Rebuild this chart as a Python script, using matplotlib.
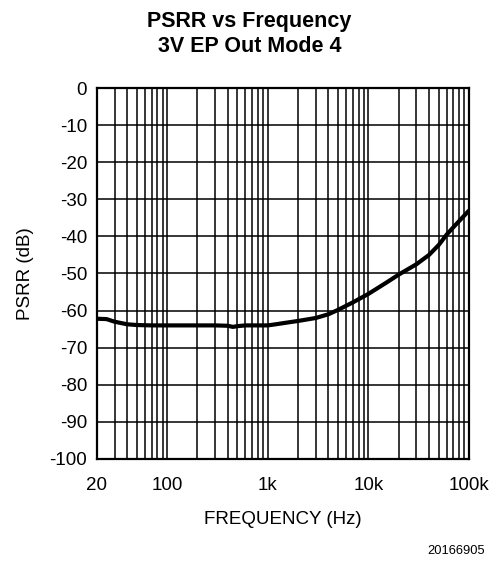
import matplotlib
matplotlib.use("Agg")
import matplotlib.pyplot as plt
from matplotlib.ticker import FixedLocator, NullFormatter

plt.rcParams['font.family'] = ['Liberation Sans', 'DejaVu Sans']
plt.rcParams['axes.unicode_minus'] = False

# curve
freq = [20, 25, 30, 40, 50, 70, 100, 200, 300, 400, 450, 500, 600, 700,
        1000, 1200, 1500, 2000, 3000, 4000, 5000, 7000, 10000, 15000,
        20000, 30000, 40000, 50000, 60000, 70000, 100000]
psrr = [-62.2, -62.3, -63.0, -63.7, -63.9, -64.0, -64.0, -64.0, -64.0, -64.1, -64.4,
        -64.2, -64.0, -64.0, -64.0, -63.7, -63.3, -62.8, -62.0, -61.0, -59.8,
        -57.8, -55.5, -52.5, -50.3, -47.5, -45.0, -42.3, -39.5, -37.5, -33.0]

xticks = [20, 100, 1000, 10000, 100000]
xticklabels = ['20', '100', '1k', '10k', '100k']
yticks = list(range(-100, 1, 10))

fig = plt.figure(figsize=(4.99, 5.61), dpi=100)
ax = fig.add_axes([0.194, 0.182, 0.746, 0.661])

ax.set_xscale('log')
ax.set_xlim(20, 100000)
ax.set_ylim(-100, 0)

minor = []
for dec in [10, 100, 1000, 10000]:
    for m in range(2, 10):
        v = m * dec
        if 20 < v < 100000:
            minor.append(v)
ax.xaxis.set_major_locator(FixedLocator(xticks))
ax.xaxis.set_minor_locator(FixedLocator(minor))
ax.xaxis.set_minor_formatter(NullFormatter())
ax.set_xticklabels(xticklabels)
ax.set_yticks(yticks)

ax.grid(True, which='both', axis='x', color='black', lw=1.1)
ax.grid(True, which='major', axis='y', color='black', lw=1.1)
ax.tick_params(which='both', length=0, labelsize=13.5)
ax.tick_params(axis='x', pad=13)
ax.tick_params(axis='y', pad=7)
for s in ax.spines.values():
    s.set_linewidth(1.6)

ax.plot(freq, psrr, color='black', lw=3.0, solid_capstyle='butt')

ax.set_xlabel('FREQUENCY (Hz)', fontsize=13.5, labelpad=12)
ax.set_ylabel('PSRR (dB)', fontsize=13.5, labelpad=11)

fig.text(0.5, 0.962, 'PSRR vs Frequency', ha='center', va='center',
         fontsize=15.5, fontweight='bold')
fig.text(0.5, 0.918, '3V EP Out Mode 4', ha='center', va='center',
         fontsize=15.5, fontweight='bold')
fig.text(0.972, 0.018, '20166905', ha='right', va='center', fontsize=9.3)

fig.savefig('out.png', dpi=100)
